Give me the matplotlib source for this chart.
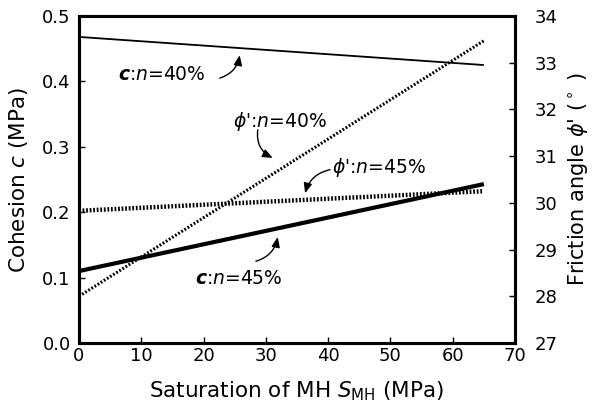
import matplotlib
matplotlib.use("Agg")
import matplotlib.pyplot as plt

plt.rcParams['font.family'] = ['DejaVu Sans']
plt.rcParams['mathtext.fontset'] = 'dejavusans'

x_ends = [0, 65]
c_n40 = [0.468, 0.425]
c_n45 = [0.110, 0.243]
phi_n40 = [28.0, 33.47]
phi_n45 = [29.83, 30.25]

xticks = [0, 10, 20, 30, 40, 50, 60, 70]
cticks = [0.0, 0.1, 0.2, 0.3, 0.4, 0.5]
phiticks = [27, 28, 29, 30, 31, 32, 33, 34]

fig = plt.figure(figsize=(5.97, 4.09), dpi=100)
ax = fig.add_axes([79/597, 1-343/409, (515-79)/597, (343-16)/409])
ax2 = ax.twinx()

ax.plot(x_ends, c_n40, color='black', lw=1.3, solid_capstyle='butt')
ax.plot(x_ends, c_n45, color='black', lw=3.0, solid_capstyle='butt')
ax2.plot(x_ends, phi_n40, color='black', lw=2.2, linestyle=(0, (0.6, 0.6)))
ax2.plot(x_ends, phi_n45, color='black', lw=3.2, linestyle=(0, (0.4, 0.4)))

ax.set_xlim(0, 70)
ax.set_ylim(0, 0.5)
ax2.set_ylim(27, 34)
ax.set_xticks(xticks)
ax.set_yticks(cticks)
ax.set_yticklabels([f"{v:.1f}" for v in cticks])
ax2.set_yticks(phiticks)

for a in (ax, ax2):
    for s in a.spines.values():
        s.set_linewidth(2.2)
ax.tick_params(axis='both', direction='in', length=4, width=1, labelsize=13, pad=3)
ax2.tick_params(axis='y', direction='in', length=4, width=1, labelsize=13, pad=14)
ax.tick_params(axis='y', pad=6)

ax.set_xlabel(r"Saturation of MH $\mathit{S}_{\mathrm{MH}}$ (MPa)", fontsize=15.5, labelpad=10)
ax.set_ylabel(r"Cohesion $c$ (MPa)", fontsize=15.5, labelpad=9)
ax2.set_ylabel(r"Friction angle $\mathit{\phi}$' ($^\circ$ )", fontsize=15, labelpad=6)

arrow = dict(arrowstyle='-|>,head_length=0.6,head_width=0.25', color='black', lw=1.0,
             shrinkA=0, shrinkB=0)

fs = 13.5
ax.annotate("", xy=(25.8, 0.440), xytext=(22.6, 0.405),
            arrowprops=dict(arrow, connectionstyle="arc3,rad=0.3"))
ax.text(6.3, 0.410, r"$\boldsymbol{c}$:$\mathit{n}$=40%", fontsize=fs, va='center', ha='left')

ax.annotate("", xy=(31.1, 0.283), xytext=(28.7, 0.326),
            arrowprops=dict(arrow, connectionstyle="arc3,rad=0.35"))
ax.text(24.7, 0.338, r"$\mathit{\phi}$':$\mathit{n}$=40%", fontsize=fs, va='center', ha='left')

ax.annotate("", xy=(36.3, 0.229), xytext=(40.3, 0.265),
            arrowprops=dict(arrow, connectionstyle="arc3,rad=0.3"))
ax.text(40.6, 0.269, r"$\mathit{\phi}$':$\mathit{n}$=45%", fontsize=fs, va='center', ha='left')

ax.annotate("", xy=(31.9, 0.162), xytext=(28.4, 0.125),
            arrowprops=dict(arrow, connectionstyle="arc3,rad=0.3"))
ax.text(18.6, 0.099, r"$\boldsymbol{c}$:$\mathit{n}$=45%", fontsize=fs, va='center', ha='left')

fig.savefig("out.png", dpi=100)
